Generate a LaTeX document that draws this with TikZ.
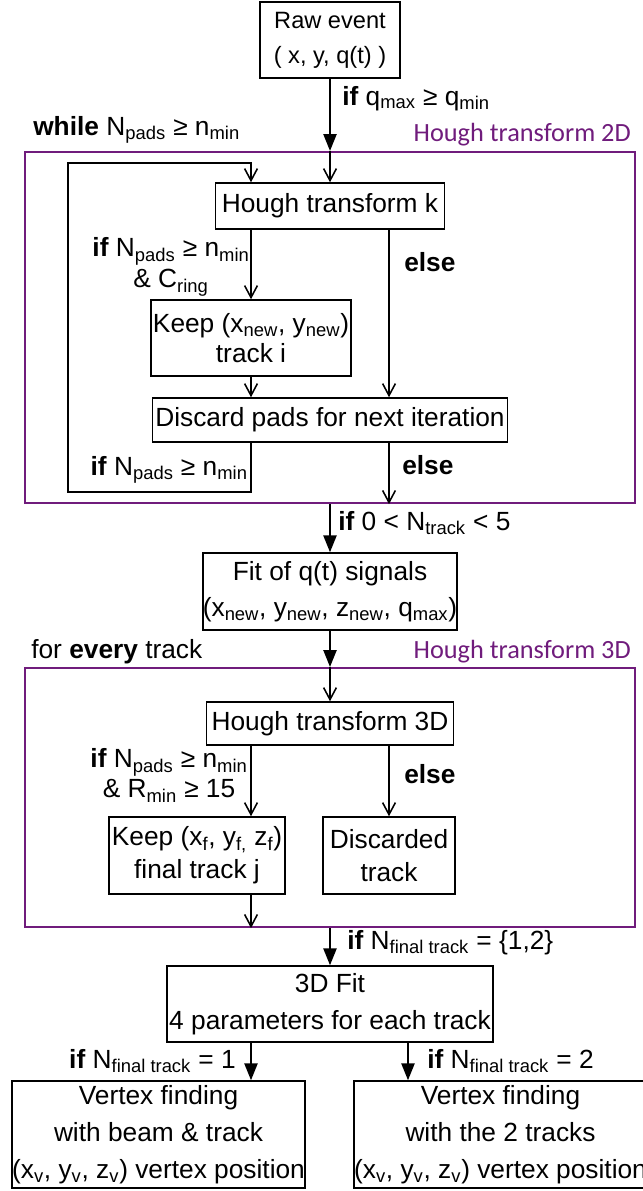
\documentclass[tikz,border=0pt]{standalone}
\usepackage{fontspec}
\setmainfont{Liberation Sans}
\newfontfamily\calibri{Carlito}
\usetikzlibrary{arrows.meta, positioning, calc}
\definecolor{hpurple}{RGB}{112,28,124}

\begin{document}
\begin{tikzpicture}[x=0.025cm, y=-0.025cm,
    box/.style={draw, line width=1.1pt, align=center, inner sep=0pt, font=\fontsize{18.7}{26}\selectfont},
    hbox/.style={draw=hpurple, line width=1.5pt, inner sep=0pt},
    lbl/.style={inner sep=0pt, align=center, font=\fontsize{18.7}{22}\selectfont},
    hlbl/.style={inner sep=0pt, text=hpurple, font=\calibri\fontsize{18.7}{22}\selectfont},
    fl/.style={line width=1.1pt, -{Triangle[length=0.42cm, width=0.33cm]}},
    op/.style={line width=1.1pt, -{Straight Barb[length=0.3cm, width=0.32cm]}}]
  \useasboundingbox (0,0) rectangle (643,1191);

  \node[hbox, minimum width=15.25cm, minimum height=8.775cm] (box2d) at (330,327.5) {};
  \node[hbox, minimum width=15.25cm, minimum height=6.475cm] (box3d) at (330,797.5) {};

  \node[box, minimum width=3.5cm, minimum height=1.9cm, font=\fontsize{16.8}{24.8}\selectfont] (raw) at (330,40) {Raw event\\( x, y, q(t) )};
  \node[box, minimum width=5.725cm, minimum height=1.15cm] (hk) at (330,206) {Hough transform k};
  \node[box, minimum width=5cm, minimum height=1.9cm, font=\fontsize{18.7}{21.3}\selectfont] (keep) at (251,338) {Keep (x\textsubscript{new}, y\textsubscript{new})\\track i};
  \node[box, minimum width=8.875cm, minimum height=1.1cm] (discard) at (330,420) {Discard pads for next iteration};
  \node[box, minimum width=6.25cm, minimum height=1.925cm] (fit) at (330,591.5) {Fit of q(t) signals\\(x\textsubscript{new}, y\textsubscript{new}, z\textsubscript{new}, q\textsubscript{max})};
  \node[box, minimum width=6.175cm, minimum height=1.075cm] (h3d) at (330,723.5) {Hough transform 3D};
  \node[box, minimum width=4.4cm, minimum height=1.925cm, font=\fontsize{18.7}{23.4}\selectfont] (keepf) at (197,855.5) {Keep (x\textsubscript{f}, y\textsubscript{f,} z\textsubscript{f})\\final track j};
  \node[box, minimum width=3.3cm, minimum height=1.925cm, font=\fontsize{18.7}{23.4}\selectfont] (discarded) at (389,855.5) {Discarded\\track};
  \node[box, minimum width=8.15cm, minimum height=1.9cm] (fit3d) at (330,1004) {3D Fit\\4 parameters for each track};
  \node[box, minimum width=7.325cm, minimum height=2.675cm, font=\fontsize{18.7}{26.5}\selectfont] (vtx1) at (158.5,1134.5) {Vertex finding\\with beam \& track\\(x\textsubscript{v}, y\textsubscript{v}, z\textsubscript{v}) vertex position};
  \node[box, minimum width=7.325cm, minimum height=2.675cm, font=\fontsize{18.7}{26.5}\selectfont] (vtx2) at (500.5,1134.5) {Vertex finding\\with the 2 tracks\\(x\textsubscript{v}, y\textsubscript{v}, z\textsubscript{v}) vertex position};

  \node[lbl, anchor=base west] (cqmax) at (342,105) {\textbf{if} q\textsubscript{max} ≥ q\textsubscript{min}};
  \node[lbl, anchor=base west] (cwhile) at (33,135) {\textbf{while} N\textsubscript{pads} ≥ n\textsubscript{min}};
  \node[hlbl, anchor=base east] (t2d) at (631,141) {Hough transform 2D};
  \node[lbl, anchor=north] (cring) at (171,237.5) {\textbf{if} N\textsubscript{pads} ≥ n\textsubscript{min}\\\& C\textsubscript{ring}};
  \node[lbl, anchor=base west] (celse1) at (404,271) {\textbf{else}};
  \node[lbl, anchor=base east] (cloop) at (248,475) {\textbf{if} N\textsubscript{pads} ≥ n\textsubscript{min}};
  \node[lbl, anchor=base west] (celse2) at (402,474) {\textbf{else}};
  \node[lbl, anchor=base west] (cntrack) at (338,530) {\textbf{if} 0 < N\textsubscript{track} < 5};
  \node[lbl, anchor=base west] (cevery) at (31,658) {for \textbf{every} track};
  \node[hlbl, anchor=base east] (t3d) at (631,658) {Hough transform 3D};
  \node[lbl, anchor=north, font=\fontsize{18.7}{21.3}\selectfont] (crmin) at (169,748.5) {\textbf{if} N\textsubscript{pads} ≥ n\textsubscript{min}\\\& R\textsubscript{min} ≥ 15};
  \node[lbl, anchor=base west] (celse3) at (404,783) {\textbf{else}};
  \node[lbl, anchor=base west] (cfinal) at (347,949) {\textbf{if} N\textsubscript{final track} = \{1,2\}};
  \node[lbl, anchor=base east] (cone) at (236,1068) {\textbf{if} N\textsubscript{final track} = 1};
  \node[lbl, anchor=base west] (ctwo) at (427,1068) {\textbf{if} N\textsubscript{final track} = 2};

  \coordinate (loopbot) at (68,492);
  \coordinate (looptop) at (68,163);
  \coordinate (leftcol) at (251,0);
  \coordinate (elsecol) at (389,0);
  \coordinate (rightcol) at (408,0);

  \draw[fl] (raw) -- (raw |- box2d.north);
  \draw[op] (raw |- box2d.north) -- (hk);
  \draw[op] (discard.south -| keep) |- (loopbot) -- (looptop) -| (hk.north -| keep);
  \draw[op] (hk.south -| keep) -- (keep);
  \draw[op] (hk.south -| elsecol) -- (discard.north -| elsecol);
  \draw[op] (keep) -- (discard.north -| keep);
  \draw[op] (discard.south -| elsecol) -- (box2d.south -| elsecol);
  \draw[fl] (box2d.south -| fit) -- (fit);
  \draw[fl] (fit) -- (box3d.north -| fit);
  \draw[op] (box3d.north -| h3d) -- (h3d);
  \draw[op] (h3d.south -| leftcol) -- (keepf.north -| leftcol);
  \draw[op] (h3d.south -| discarded) -- (discarded);
  \draw[op] (keepf.south -| leftcol) -- (box3d.south -| leftcol);
  \draw[fl] (box3d.south -| fit3d) -- (fit3d);
  \draw[fl] (fit3d.south -| leftcol) -- (vtx1.north -| leftcol);
  \draw[fl] (fit3d.south -| rightcol) -- (vtx2.north -| rightcol);
\end{tikzpicture}
\end{document}
